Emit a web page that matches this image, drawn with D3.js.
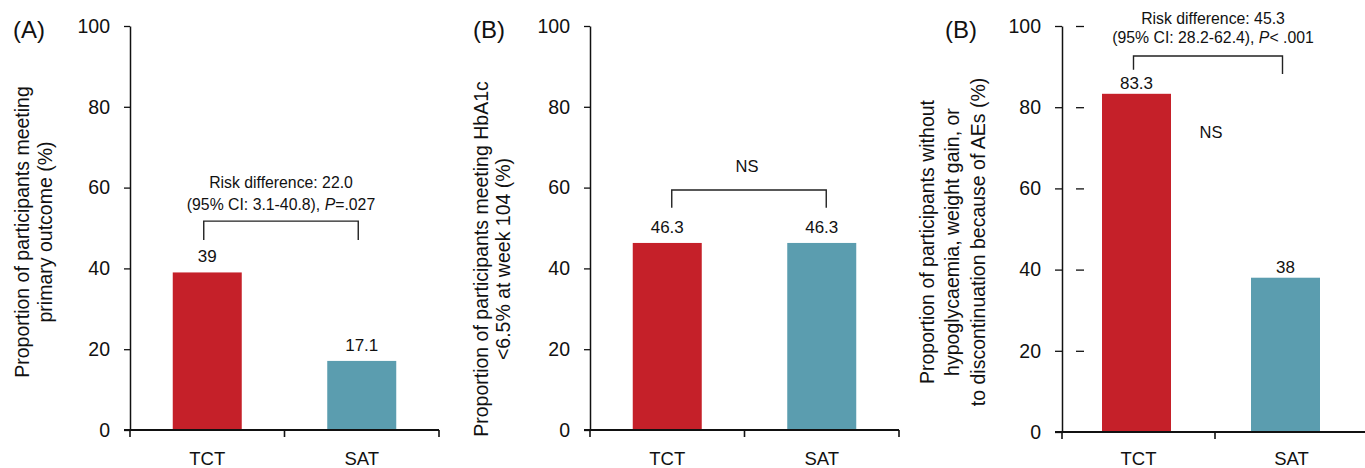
<!DOCTYPE html>
<html><head><meta charset="utf-8">
<script src="https://cdn.jsdelivr.net/npm/d3@7"></script>
<style>
body{margin:0;background:#fff}
svg{display:block}
text{font-family:"Liberation Sans",Arial,sans-serif;fill:#111}
</style>
</head><body>
<svg id="chart" width="1365" height="468"></svg>
<script>
// ---------------- data ----------------
const categories = ["TCT", "SAT"];
const valuesA = [39, 17.1];
const valuesB = [46.3, 46.3];
const valuesC = [83.3, 38];
const yTicks = [0, 20, 40, 60, 80, 100];
const panelLetters = ["(A)", "(B)", "(B)"];
const yTitleA = ["Proportion of participants meeting", "primary outcome (%)"];
const yTitleB = ["Proportion of participants meeting HbA1c", "<6.5% at week 104 (%)"];
const yTitleC = ["Proportion of participants without", "hypoglycaemia, weight gain, or", "to discontinuation because of AEs (%)"];
const annotA = [[["Risk difference: 22.0", false]], [["(95% CI: 3.1-40.8), ", false], ["P", true], ["=.027", false]]];
const annotB = [[["NS", false]]];
const annotC = [[["Risk difference: 45.3", false]], [["(95% CI: 28.2-62.4), ", false], ["P", true], ["< .001", false]]];
const bracketTop = [51.7, 59.4, 92.6];      // value level of bracket bar
const bracketEnds = [[47, 47], [55, 55], [89.2, 88.2]];
const extraNS = [null, null, {text: "NS", value: 72.4}];

const panelValues = [valuesA, valuesB, valuesC];
const panelTitles = [yTitleA, yTitleB, yTitleC];
const panelAnnots = [annotA, annotB, annotC];

// ---------------- layout (not data) ----------------
const colors = ["#C52029", "#5B9DAF"];
const layout = [
  {axisX: [130, 439], barX: [130, 439], y: [430, 26], tick: 6, titleX: [29, 52], titleCY: 232, letterX: 13,
   lblGap: 10, brDx: -3.5, textDx: 0, lineGaps: [33, 11], axisEnd: 439},
  {axisX: [590, 899], barX: [590, 899], y: [430, 26], tick: 6, titleX: [488, 510], titleCY: 259, letterX: 473,
   lblGap: 10, brDx: 4.5, textDx: -2, lineGaps: [18], axisEnd: 899},
  {axisX: [1062, 1368], barX: [1062, 1360], y: [432, 26], tick: 7, titleX: [934, 959, 985], titleCY: 242, letterX: 945,
   lblGap: 5, brDx: -3, textDx: 5, lineGaps: [32, 13], axisEnd: 1365, floatTicks: [1076, 1084]}
];
const barW = 69;

const svg = d3.select("#chart");

layout.forEach((L, p) => {
  const vals = panelValues[p];
  const g = svg.append("g");
  const y = d3.scaleLinear().domain([0, 100]).range(L.y);
  const xa = d3.scaleBand().domain(categories).range(L.axisX);
  const xb = d3.scaleBand().domain(categories).range(L.barX);
  const bc = c => xb(c) + xb.bandwidth() / 2;

  // bars
  g.selectAll("rect.bar").data(categories).join("rect")
    .attr("x", c => bc(c) - barW / 2)
    .attr("width", barW)
    .attr("y", (c, i) => y(vals[i]))
    .attr("height", (c, i) => y(0) - y(vals[i]))
    .attr("fill", (c, i) => colors[i]);

  // y axis
  const ya = g.append("g").attr("transform", `translate(${L.axisX[0]},0)`)
    .call(d3.axisLeft(y).tickValues(yTicks).tickSize(L.tick).tickPadding(14).tickSizeOuter(0).tickFormat(d3.format("d")));
  ya.attr("font-size", null).attr("font-family", null);
  ya.select(".domain").attr("stroke", "#111").attr("stroke-width", 1.5);
  ya.selectAll(".tick line").attr("stroke", "#111").attr("stroke-width", 1.3);
  ya.selectAll(".tick text").attr("font-size", 19.5).attr("fill", "#111");

  // floating dashes (panel C)
  if (L.floatTicks) {
    g.selectAll("line.ft").data(yTicks.filter(t => t > 0)).join("line")
      .attr("x1", L.floatTicks[0]).attr("x2", L.floatTicks[1])
      .attr("y1", t => y(t) + 0.5).attr("y2", t => y(t) + 0.5)
      .attr("stroke", "#111").attr("stroke-width", 1.3);
  }

  // x axis
  g.append("line").attr("x1", L.axisX[0] - L.tick).attr("x2", L.axisEnd)
    .attr("y1", y(0)).attr("y2", y(0)).attr("stroke", "#111").attr("stroke-width", 2.2);
  const bounds = categories.map(c => xa(c)).concat([L.axisX[1]]);
  g.selectAll("line.xt").data(bounds).join("line")
    .attr("x1", d => d).attr("x2", d => d)
    .attr("y1", y(0)).attr("y2", y(0) + 7)
    .attr("stroke", "#111").attr("stroke-width", 1.6);
  g.selectAll("text.xl").data(categories).join("text")
    .attr("x", c => xa(c) + xa.bandwidth() / 2).attr("y", 465)
    .attr("text-anchor", "middle").attr("font-size", 18.5).text(c => c);

  // value labels
  g.selectAll("text.vl").data(categories).join("text")
    .attr("x", c => bc(c)).attr("y", (c, i) => y(vals[i]) - L.lblGap)
    .attr("text-anchor", "middle").attr("font-size", 17).text((c, i) => String(vals[i]));

  // bracket
  const bx0 = bc(categories[0]) + L.brDx, bx1 = bc(categories[1]) + L.brDx;
  const ends = bracketEnds[p];
  g.append("path")
    .attr("d", `M${bx0},${y(ends[0])}V${y(bracketTop[p])}H${bx1}V${y(ends[1])}`)
    .attr("fill", "none").attr("stroke", "#222").attr("stroke-width", 1.4);

  // annotation text
  const ann = panelAnnots[p];
  const mid = (bx0 + bx1) / 2 + L.textDx;
  ann.forEach((line, li) => {
    const t = g.append("text").attr("x", mid).attr("y", y(bracketTop[p]) - L.lineGaps[li])
      .attr("text-anchor", "middle").attr("font-size", ann.length === 1 ? 16.5 : 15.8);
    line.forEach(seg => t.append("tspan").attr("font-style", seg[1] ? "italic" : null).text(seg[0]));
  });
  if (extraNS[p]) {
    g.append("text").attr("x", (bc(categories[0]) + bc(categories[1])) / 2)
      .attr("y", y(extraNS[p].value)).attr("text-anchor", "middle").attr("font-size", 16.5)
      .text(extraNS[p].text);
  }

  // y title
  panelTitles[p].forEach((line, li) => {
    g.append("text").attr("transform", `translate(${L.titleX[li]},${L.titleCY}) rotate(-90)`)
      .attr("text-anchor", "middle").attr("font-size", 19.5).text(line);
  });

  // panel letter
  g.append("text").attr("x", L.letterX).attr("y", 38).attr("font-size", 24).text(panelLetters[p]);
});
</script>
</body></html>
